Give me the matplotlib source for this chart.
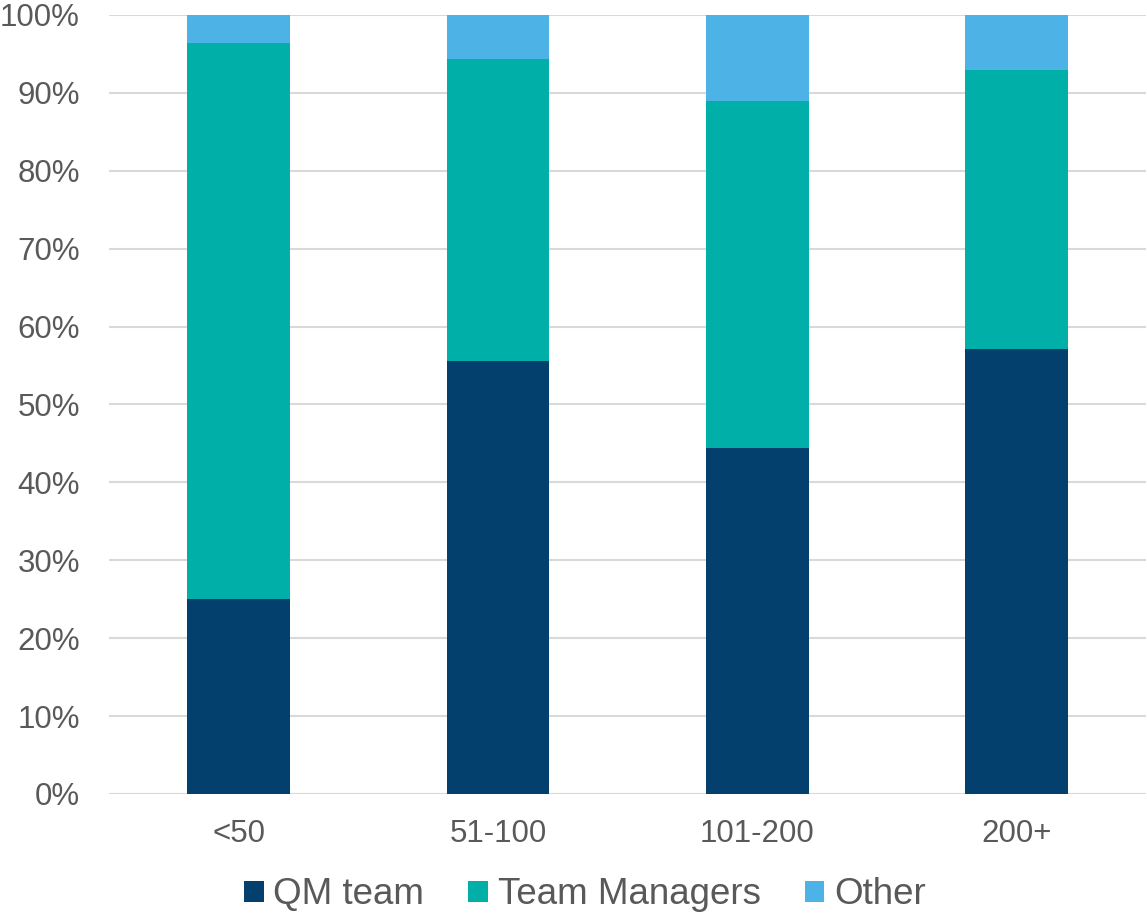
import matplotlib
matplotlib.use("Agg")
import matplotlib.pyplot as plt
from matplotlib.patches import Patch
from matplotlib.ticker import PercentFormatter

categories = ["<50", "51-100", "101-200", "200+"]
qm_team = [25.0, 55.6, 44.4, 57.1]
team_managers = [71.4, 38.8, 44.5, 35.8]
other = [3.6, 5.6, 11.1, 7.1]

series = ["QM team", "Team Managers", "Other"]
colors = ["#03406E", "#00B0A8", "#4DB3E6"]

plt.rcParams["font.family"] = ["Liberation Sans", "DejaVu Sans"]
text_color = "#595959"

fig = plt.figure(figsize=(11.47, 9.14), dpi=100)
ax = fig.add_axes([0.095, 0.1313, 0.9045, 0.8523])

x = list(range(len(categories)))
bottom = [0.0] * len(categories)
for vals, col in zip([qm_team, team_managers, other], colors):
    ax.bar(x, vals, width=0.397, bottom=bottom, color=col, zorder=3)
    bottom = [b + v for b, v in zip(bottom, vals)]

ax.set_xlim(-0.5, len(categories) - 0.5)
ax.set_ylim(0, 100)
ax.set_yticks(range(0, 101, 10))
ax.yaxis.set_major_formatter(PercentFormatter(decimals=0))
ax.set_xticks(x)
ax.set_xticklabels(categories)
ax.grid(axis="y", color="#D9D9D9", linewidth=1.5, zorder=0)
for s in ax.spines.values():
    s.set_visible(False)
ax.tick_params(axis="both", length=0, labelsize=22.5, colors=text_color)
ax.tick_params(axis="x", pad=18)
ax.tick_params(axis="y", pad=21)

handles = [Patch(facecolor=c, label=l) for c, l in zip(colors, series)]
fig.legend(handles=handles, loc="center", bbox_to_anchor=(0.51, 0.021), ncol=3,
           frameon=False, fontsize=26.5, labelcolor=text_color,
           handlelength=0.52, handleheight=0.52, handletextpad=0.27, columnspacing=1.2)

fig.savefig("out.png", dpi=100)
